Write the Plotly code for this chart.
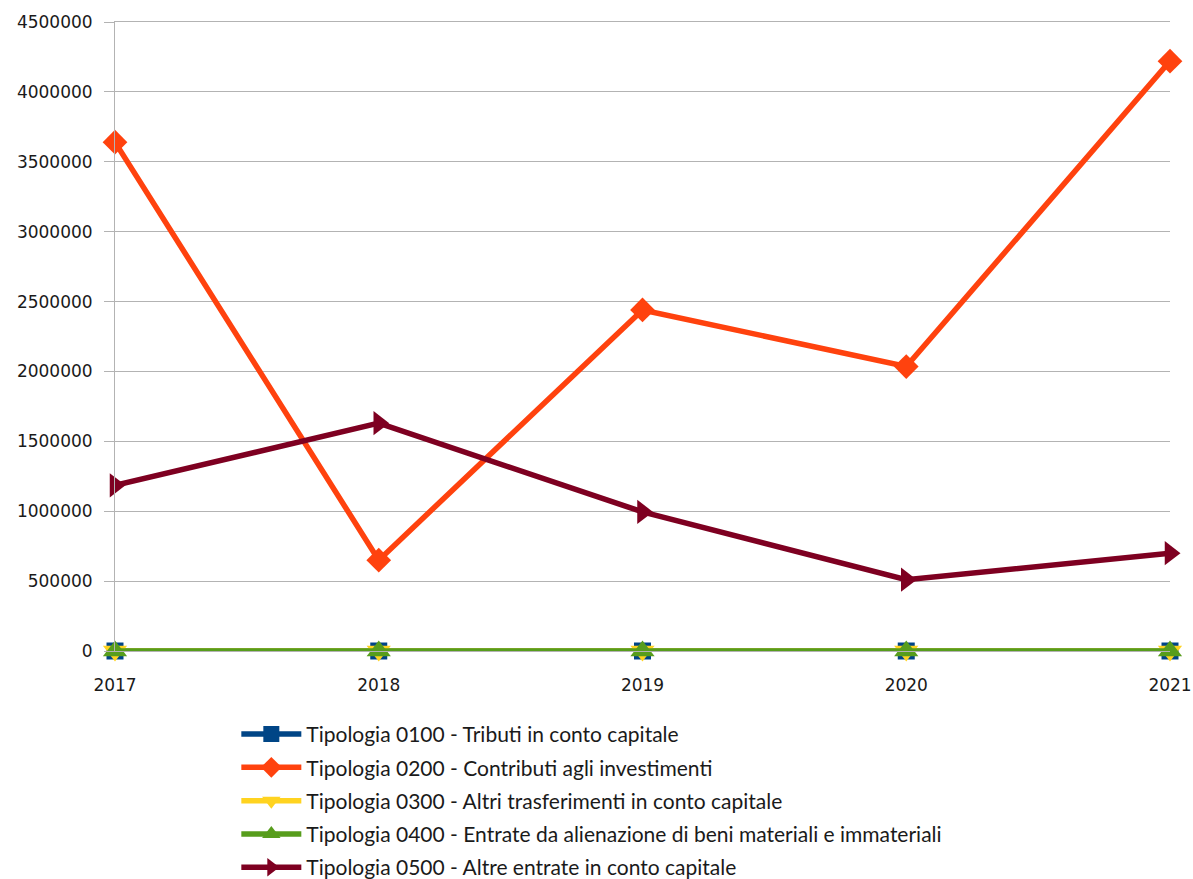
import plotly.graph_objects as go

years = [2017, 2018, 2019, 2020, 2021]

tipologia_0100 = [0, 0, 0, 0, 0]
tipologia_0200 = [3640000, 650000, 2440000, 2035000, 4220000]
tipologia_0300 = [0, 0, 0, 0, 0]
tipologia_0400 = [0, 0, 0, 0, 0]
tipologia_0500 = [1185000, 1630000, 995000, 510000, 700000]

series_names = [
    "Tipologia 0100 - Tributi in conto capitale",
    "Tipologia 0200 - Contributi agli investimenti",
    "Tipologia 0300 - Altri trasferimenti in conto capitale",
    "Tipologia 0400 - Entrate da alienazione di beni materiali e immateriali",
    "Tipologia 0500 - Altre entrate in conto capitale",
]
series_values = [tipologia_0100, tipologia_0200, tipologia_0300, tipologia_0400, tipologia_0500]
series_colors = ["#004586", "#ff420e", "#ffd320", "#579d1c", "#7e0021"]
series_symbols = ["square", "diamond", "triangle-down", "triangle-up", "triangle-right"]
marker_sizes = [17, 19, 21, 21, 21]

y_ticks = [0, 500000, 1000000, 1500000, 2000000, 2500000, 3000000, 3500000, 4000000, 4500000]

fig = go.Figure()
for i, (name, vals, col, sym, msz) in enumerate(
        zip(series_names, series_values, series_colors, series_symbols, marker_sizes)):
    fig.add_trace(go.Scatter(
        x=years, y=vals, name=name, mode="lines+markers",
        legendgroup=f"g{i}",
        line=dict(color=col, width=5.5),
        marker=dict(symbol=sym, size=msz, color=col),
        cliponaxis=False,
    ))

fig.update_layout(
    width=1193, height=879,
    margin=dict(l=115, r=23, t=22, b=228, autoexpand=False),
    plot_bgcolor="white", paper_bgcolor="white",
    font=dict(family="DejaVu Sans", size=17, color="#1a1a1a"),
    showlegend=True,
    legend=dict(
        x=0.115, y=-0.1, xanchor="left", yanchor="top",
        font=dict(family="Lato", size=21, color="#1a1a1a"),
        tracegroupgap=3, itemwidth=60,
    ),
    xaxis=dict(
        range=[2017, 2021], tickvals=years, ticktext=[str(y) for y in years],
        showgrid=False, zeroline=False, automargin=False,
        showline=True, mirror=True, linecolor="#b3b3b3", linewidth=1,
        ticks="", ticklabelstandoff=19,
    ),
    yaxis=dict(
        range=[0, 4500000], tickvals=y_ticks, ticktext=[str(v) for v in y_ticks],
        showgrid=True, gridcolor="#b3b3b3", gridwidth=1, zeroline=False,
        showline=True, linecolor="#b3b3b3", linewidth=1, automargin=False,
        ticks="outside", ticklen=10, tickcolor="#b3b3b3",
        ticklabelstandoff=8,
    ),
)

fig.write_html("out.html")
